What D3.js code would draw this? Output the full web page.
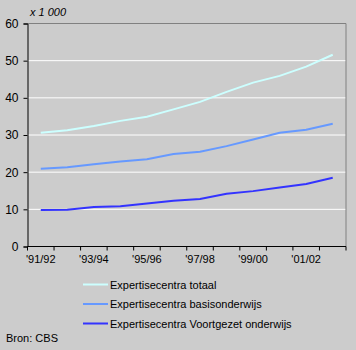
<!DOCTYPE html>
<html><head><meta charset="utf-8">
<script src="https://cdn.jsdelivr.net/npm/d3@7"></script>
<style>body{margin:0;background:#cccccc;}svg{display:block;font-family:Arial,"Liberation Sans",sans-serif;}</style>
</head><body>
<script>
const categories = ["'91/92","'92/93","'93/94","'94/95","'95/96","'96/97","'97/98","'98/99","'99/00","'00/01","'01/02","'02/03"];
const tickLabels = ["'91/92","'93/94","'95/96","'97/98","'99/00","'01/02"];
const seriesNames = ["Expertisecentra totaal","Expertisecentra basisonderwijs","Expertisecentra Voortgezet onderwijs"];
const totaal = [30.6,31.3,32.4,33.8,34.9,36.9,38.9,41.6,44.1,45.9,48.4,51.6];
const basis = [20.9,21.3,22.1,22.9,23.5,24.9,25.5,27.0,28.8,30.6,31.4,33.0];
const voortgezet = [9.8,9.9,10.6,10.8,11.6,12.3,12.8,14.2,14.9,15.9,16.8,18.5];
const yTicks = [0,10,20,30,40,50,60];
const colors = ["#ccffff","#6699ff","#3333ff"];

const W=356,H=350;
const svg=d3.select("body").append("svg").attr("width",W).attr("height",H);
svg.append("rect").attr("width",W).attr("height",H).attr("fill","#cccccc");
const L=27.5,R=346,T=23.5,B=246.5;
const x=d3.scaleBand().domain(categories).range([L,R]).padding(0);
const y=d3.scaleLinear().domain([0,60]).range([B,T]);

// gridlines
svg.append("g").selectAll("line").data(yTicks.filter(d=>d>0&&d<60)).join("line")
 .attr("x1",L).attr("x2",R).attr("y1",d=>y(d)).attr("y2",d=>y(d))
 .attr("stroke","#ffffff").attr("stroke-width",1);
// top and right border
svg.append("path").attr("d",`M${L},${T}H${R}V${B}`).attr("fill","none").attr("stroke","#808080").attr("stroke-width",1);

// y axis
const ya=svg.append("g").attr("transform",`translate(${L},0)`)
 .call(d3.axisLeft(y).tickValues(yTicks).tickSize(4).tickPadding(5).tickFormat(d3.format("d")));
ya.select(".domain").attr("stroke","#000");
ya.selectAll("text").attr("font-size","12px").attr("fill","#000").attr("font-family","Arial,'Liberation Sans',sans-serif");

// x axis
const xa=svg.append("g").attr("transform",`translate(0,${B})`);
xa.append("line").attr("x1",L).attr("x2",R).attr("stroke","#000");
const tickPos=categories.map(c=>x(c)).concat([R]);
xa.selectAll("line.t").data(tickPos).join("line").attr("class","t")
 .attr("x1",d=>d).attr("x2",d=>d).attr("y1",0).attr("y2",4).attr("stroke","#000");
xa.selectAll("text").data(tickLabels).join("text")
 .attr("x",d=>x(d)+x.bandwidth()/2).attr("y",16.5).attr("text-anchor","middle")
 .attr("font-size","11px").attr("fill","#000").text(d=>d);

svg.append("text").attr("x",30).attr("y",16).attr("font-size","11px").attr("font-style","italic").text("x 1 000");

const line=d3.line().x((d,i)=>x(categories[i])+x.bandwidth()/2).y(d=>y(d));
[totaal,basis,voortgezet].forEach((s,k)=>{
 svg.append("path").datum(s).attr("d",line).attr("fill","none").attr("stroke",colors[k]).attr("stroke-width",2);
});

// legend
const lg=svg.append("g");
seriesNames.forEach((n,k)=>{
 const yy=284.5+k*19.5;
 lg.append("line").attr("x1",83).attr("x2",108).attr("y1",yy).attr("y2",yy).attr("stroke",colors[k]).attr("stroke-width",2);
 lg.append("text").attr("x",110).attr("y",yy+4).attr("font-size","11px").attr("fill","#000").text(n);
});
svg.append("text").attr("x",6).attr("y",342).attr("font-size","11px").attr("fill","#000").text("Bron: CBS");
</script>
</body></html>
